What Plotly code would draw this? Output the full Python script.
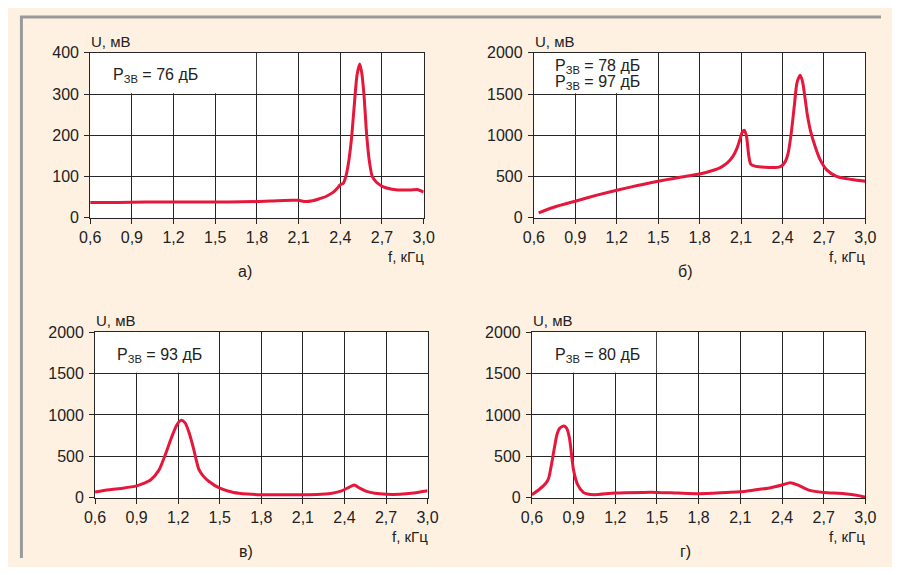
import plotly.graph_objects as go

# The page adds an 8px body margin (top/left white strip of the picture);
# the figure is sized so that the page stays exactly 900x575.
OFF = 8
W, H = 900 - 2 * OFF, 575 - 2 * OFF

# ---------------- data ----------------
X_TICKS = [0.6, 0.9, 1.2, 1.5, 1.8, 2.1, 2.4, 2.7, 3.0]
X_TICK_LABELS = ["0,6", "0,9", "1,2", "1,5", "1,8", "2,1", "2,4", "2,7", "3,0"]
Y_TICKS_A = [0, 100, 200, 300, 400]
Y_TICKS_B = [0, 500, 1000, 1500, 2000]

A_F = [0.60, 0.80, 1.00, 1.20, 1.40, 1.60, 1.80, 1.95, 2.05, 2.10, 2.15, 2.20, 2.25, 2.30,
       2.35, 2.38, 2.40, 2.42, 2.44, 2.46, 2.48, 2.50, 2.52, 2.54, 2.555, 2.57, 2.59,
       2.61, 2.63, 2.66, 2.71, 2.80, 2.90, 2.96, 3.00]
A_U = [37, 37, 38, 38, 38, 38, 39, 41, 42, 42, 39, 41, 46, 52,
       62, 72, 80, 83, 100, 135, 190, 270, 345, 373, 350, 300, 200,
       135, 100, 86, 75, 68, 67, 68, 62]

B_F = [0.635, 0.75, 0.90, 1.05, 1.20, 1.35, 1.50, 1.65, 1.80, 1.90, 1.95, 2.00, 2.04, 2.07,
       2.09, 2.11, 2.125, 2.14, 2.155, 2.17, 2.20, 2.25, 2.30, 2.35, 2.39, 2.42, 2.44,
       2.462, 2.486, 2.505, 2.528, 2.545, 2.58, 2.603, 2.638, 2.674, 2.72, 2.79, 2.90, 3.00]
B_U = [59, 130, 200, 270, 333, 390, 443, 488, 529, 575, 608, 665, 740, 840,
       940, 1040, 1060, 980, 760, 650, 625, 615, 610, 608, 625, 680, 776,
       1012, 1365, 1639, 1729, 1650, 1247, 1051, 855, 698, 580, 502, 463, 443]

C_F = [0.60, 0.70, 0.80, 0.90, 0.95, 1.00, 1.06, 1.10, 1.15, 1.19, 1.22, 1.25, 1.28, 1.31,
       1.33, 1.35, 1.38, 1.42, 1.50, 1.60, 1.70, 1.80, 2.00, 2.20, 2.30, 2.38, 2.43, 2.47,
       2.51, 2.56, 2.62, 2.70, 2.80, 2.90, 3.00]
C_U = [70, 98, 117, 145, 175, 215, 332, 490, 720, 880, 935, 905, 780, 600,
       460, 340, 265, 200, 117, 66, 47, 39, 38, 40, 52, 85, 125, 156,
       117, 78, 55, 43, 43, 59, 86]

D_F = [0.60, 0.65, 0.70, 0.72, 0.75, 0.78, 0.80, 0.83, 0.85, 0.87, 0.90, 0.93, 0.97, 1.00,
       1.05, 1.20, 1.40, 1.50, 1.65, 1.80, 2.00, 2.10, 2.20, 2.30, 2.40, 2.46, 2.52,
       2.60, 2.70, 2.85, 2.95, 3.00]
D_U = [39, 98, 176, 234, 488, 762, 840, 867, 840, 723, 332, 156, 66, 47,
       39, 59, 66, 66, 58, 51, 66, 74, 95, 117, 156, 184, 150,
       90, 66, 51, 27, 8]

# positions below are page pixels of the 900x575 picture
PANELS = [
    dict(f=A_F, u=A_U, yt=Y_TICKS_A, ymax=400, box_x1=1.8, box_y0=302,
         px=(81, 423), py=(46, 216), label="а)", label_x=240, label_y=271,
         ptexts=[("P<sub>ЗВ</sub> = 76 дБ", 102, 69)]),
    dict(f=B_F, u=B_U, yt=Y_TICKS_B, ymax=2000, box_x1=1.5, box_y0=1510,
         px=(536, 876), py=(46, 216), label="б)", label_x=692, label_y=271,
         ptexts=[("P<sub>ЗВ</sub> = 78 дБ", 556, 60), ("P<sub>ЗВ</sub> = 97 дБ", 556, 77)]),
    dict(f=C_F, u=C_U, yt=Y_TICKS_B, ymax=2000, box_x1=1.5, box_y0=1510,
         px=(86, 427), py=(334, 505), label="в)", label_x=241, label_y=560,
         ptexts=[("P<sub>ЗВ</sub> = 93 дБ", 106, 358)]),
    dict(f=D_F, u=D_U, yt=Y_TICKS_B, ymax=2000, box_x1=1.5, box_y0=1510,
         px=(534, 876), py=(334, 505), label="г)", label_x=691, label_y=560,
         ptexts=[("P<sub>ЗВ</sub> = 80 дБ", 556, 358)]),
]


def fx(px):
    return (px - OFF) / W


def fy(py):
    return 1 - (py - OFF) / H


FONT = "Liberation Sans, Arial, sans-serif"
TXT = "#222222"
GRID = "#262626"
RED = "#E5173B"
CREAM = "#FEF1E2"

fig = go.Figure()
layout = dict(
    width=W, height=H, margin=dict(l=0, r=0, t=0, b=0),
    paper_bgcolor=CREAM, plot_bgcolor="white", showlegend=False,
    font=dict(family=FONT, color=TXT, size=15),
)
shapes = [
    dict(type="line", xref="paper", yref="paper", x0=fx(9), x1=1, y0=fy(9), y1=fy(9),
         line=dict(color="#9a9a9a", width=3), layer="below"),
    dict(type="line", xref="paper", yref="paper", x0=fx(10.5), x1=fx(10.5), y0=0, y1=fy(8),
         line=dict(color="#9a9a9a", width=3), layer="below"),
]
annotations = []

for i, p in enumerate(PANELS, start=1):
    xa = "x" if i == 1 else f"x{i}"
    ya = "y" if i == 1 else f"y{i}"
    xkey = "xaxis" if i == 1 else f"xaxis{i}"
    ykey = "yaxis" if i == 1 else f"yaxis{i}"
    x0, x1 = p["px"]
    ytop, ybot = p["py"]
    fig.add_trace(go.Scatter(
        x=p["f"], y=p["u"], xaxis=xa, yaxis=ya, mode="lines",
        line=dict(color=RED, width=3, shape="spline", smoothing=0.7),
        hoverinfo="skip"))
    layout[xkey] = dict(
        domain=[fx(x0), fx(x1)], anchor=ya, range=[0.6, 3.0],
        tickvals=X_TICKS, ticktext=X_TICK_LABELS,
        showgrid=True, gridcolor=GRID, gridwidth=1,
        showline=True, linecolor=GRID, linewidth=1, mirror=True,
        ticks="outside", ticklen=5, tickcolor=GRID, zeroline=False,
        tickfont=dict(size=16, color=TXT, family=FONT), fixedrange=True)
    layout[ykey] = dict(
        domain=[fy(ybot), fy(ytop)], anchor=xa, range=[0, p["ymax"]],
        tickvals=p["yt"], ticktext=[str(v) for v in p["yt"]],
        showgrid=True, gridcolor=GRID, gridwidth=1,
        showline=True, linecolor=GRID, linewidth=1, mirror=True,
        ticks="outside", ticklen=5, tickcolor=GRID, zeroline=False,
        ticklabelstandoff=2,
        tickfont=dict(size=16, color=TXT, family=FONT), fixedrange=True)
    shapes.append(dict(type="rect", xref=xa, yref=ya, x0=0.6, x1=p["box_x1"] - 0.006,
                       y0=p["box_y0"], y1=p["ymax"], fillcolor="white", line_width=0,
                       layer="between"))
    annotations.append(dict(text="U, мВ", xref="paper", yref="paper",
                            x=fx(x0 - 1), y=fy(ytop - 12), xanchor="left",
                            yanchor="middle", showarrow=False, font=dict(size=15)))
    annotations.append(dict(text="f, кГц", xref="paper", yref="paper",
                            x=fx(x1 + 2), y=fy(ybot + 40), xanchor="right",
                            yanchor="middle", showarrow=False, font=dict(size=15)))
    annotations.append(dict(text=p["label"], xref="paper", yref="paper",
                            x=fx(p["label_x"]), y=fy(p["label_y"]), xanchor="center",
                            yanchor="middle", showarrow=False, font=dict(size=16)))
    for t, tx, ty in p["ptexts"]:
        annotations.append(dict(text=t, xref="paper", yref="paper",
                                x=fx(tx), y=fy(ty), xanchor="left", yanchor="middle",
                                showarrow=False, font=dict(size=16)))

layout["shapes"] = shapes
layout["annotations"] = annotations
fig.update_layout(**layout)
fig.write_html("out.html", config={"displayModeBar": False})
